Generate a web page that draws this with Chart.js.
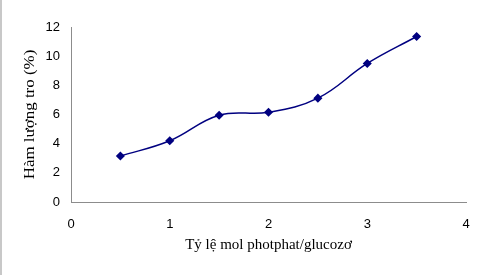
<!DOCTYPE html>
<html>
<head>
<meta charset="utf-8">
<script src="https://cdn.jsdelivr.net/npm/chart.js@4"></script>
<style>
  html, body { margin: 0; padding: 0; background: #fff; }
  #wrap { width: 492px; height: 275px; position: relative; }
</style>
</head>
<body>
<div id="wrap"><canvas id="myChart"></canvas></div>
<script>
// data
const ratios = [0.5, 1, 1.5, 2, 2.5, 3, 3.5];
const ashContent = [3.15, 4.2, 5.95, 6.15, 7.12, 9.5, 11.35];
const xTicks = [0, 1, 2, 3, 4];
const yTicks = [0, 2, 4, 6, 8, 10, 12];
const yTitle = 'Hàm lượng tro (%)';

const axisGray = '#8c8c8c';
const lineColor = '#000080';

// thin gray edge on the left + the (slightly stretched) y title
const extras = {
  id: 'extras',
  afterDraw(chart) {
    const c = chart.ctx;
    const a = chart.chartArea;
    c.save();
    c.strokeStyle = '#c8c8c8';
    c.lineWidth = 2;
    c.beginPath();
    c.moveTo(1, 0);
    c.lineTo(1, chart.height);
    c.stroke();

    c.translate(30, (a.top + a.bottom) / 2);
    c.rotate(-Math.PI / 2);
    c.scale(1.13, 1);
    c.font = '15px "Liberation Serif"';
    c.fillStyle = '#000';
    c.textAlign = 'center';
    c.textBaseline = 'middle';
    c.fillText(yTitle, 0, 0);
    c.restore();
  }
};

const ctx = document.getElementById('myChart').getContext('2d');
new Chart(ctx, {
  type: 'scatter',
  data: {
    datasets: [{
      data: ratios.map((x, i) => ({ x: x, y: ashContent[i] })),
      showLine: true,
      borderColor: lineColor,
      backgroundColor: lineColor,
      borderWidth: 1.5,
      tension: 0.4,
      pointStyle: 'rectRot',
      pointRadius: 3.5,
      pointHoverRadius: 3.5
    }]
  },
  options: {
    responsive: true,
    maintainAspectRatio: false,
    animation: false,
    layout: { padding: { left: 20, right: 26, top: 27, bottom: 0 } },
    plugins: { legend: { display: false }, tooltip: { enabled: false } },
    scales: {
      x: {
        type: 'linear',
        min: 0, max: 4,
        afterBuildTicks: s => { s.ticks = xTicks.map(v => ({ value: v })); },
        afterFit: s => { s.height = 73; },
        grid: { display: false, drawTicks: true, tickLength: 5, tickColor: axisGray },
        border: { color: axisGray, width: 1 },
        ticks: { color: '#000', padding: 10, font: { family: 'Liberation Sans', size: 13 } },
        title: {
          display: true,
          text: 'Tỷ lệ mol photphat/glucozơ',
          color: '#000',
          padding: { top: 4, bottom: 21 },
          font: { family: 'Liberation Serif', size: 15 }
        }
      },
      y: {
        min: 0, max: 12,
        afterBuildTicks: s => { s.ticks = yTicks.map(v => ({ value: v })); },
        afterFit: s => { s.width = 51; },
        grid: { display: false, drawTicks: true, tickLength: 5, tickColor: axisGray },
        border: { color: axisGray, width: 1 },
        ticks: { color: '#000', padding: 6, font: { family: 'Liberation Sans', size: 13 } },
        title: { display: false }
      }
    }
  },
  plugins: [extras]
});
</script>
</body>
</html>
